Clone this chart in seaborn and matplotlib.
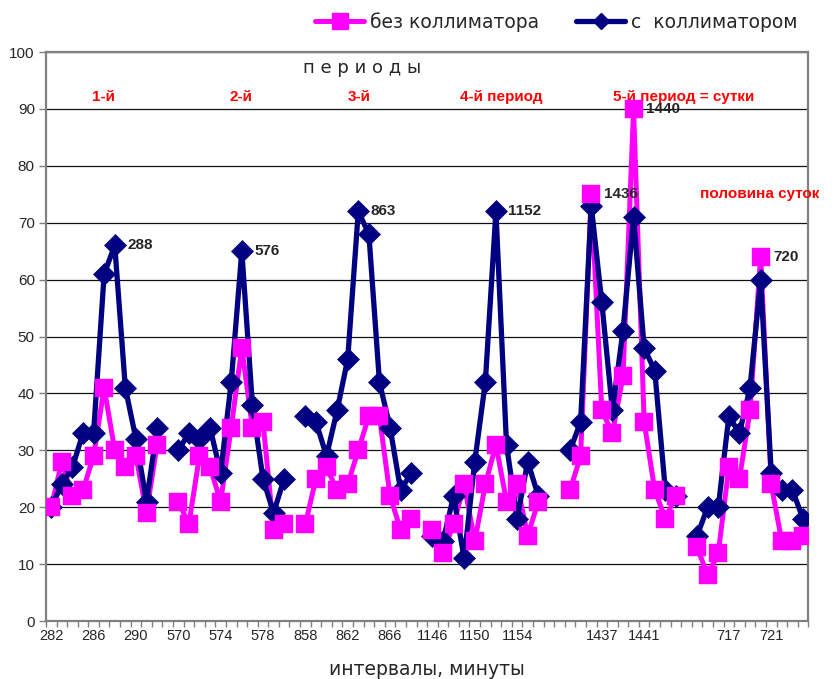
import pandas as pd
import matplotlib.pyplot as plt
from matplotlib.lines import Line2D
import seaborn as sns

# categories on the x axis ("" = empty category, gap in the lines)
minutes = ["282", "283", "284", "285", "286", "287", "288", "289", "290", "291", "292", "",
           "570", "571", "572", "573", "574", "575", "576", "577", "578", "579", "580", "",
           "858", "859", "860", "861", "862", "863", "864", "865", "866", "867", "868", "",
           "1146", "1147", "1148", "1149", "1150", "1151", "1152", "1153", "1154", "1155", "1156", "", "",
           "1434", "1435", "1436", "1437", "1438", "1439", "1440", "1441", "1442", "1443", "1444", "",
           "714", "715", "716", "717", "718", "719", "720", "721", "722", "723", "724"]

# series
no_collimator = [20, 28, 22, 23, 29, 41, 30, 27, 29, 19, 31, None,
                 21, 17, 29, 27, 21, 34, 48, 34, 35, 16, 17, None,
                 17, 25, 27, 23, 24, 30, 36, 36, 22, 16, 18, None,
                 16, 12, 17, 24, 14, 24, 31, 21, 24, 15, 21, None, None,
                 23, 29, 75, 37, 33, 43, 90, 35, 23, 18, 22, None,
                 13, 8, 12, 27, 25, 37, 64, 24, 14, 14, 15]
with_collimator = [20, 24, 27, 33, 33, 61, 66, 41, 32, 21, 34, None,
                   30, 33, 32, 34, 26, 42, 65, 38, 25, 19, 25, None,
                   36, 35, 29, 37, 46, 72, 68, 42, 34, 23, 26, None,
                   15, 14, 22, 11, 28, 42, 72, 31, 18, 28, 22, None, None,
                   30, 35, 73, 56, 37, 51, 71, 48, 44, 23, 22, None,
                   15, 20, 20, 36, 33, 41, 60, 26, 23, 23, 18]

period_labels = ["1-й", "2-й", "3-й", "4-й период", "5-й период = сутки"]
period_pos = [4.9, 17.9, 29.1, 42.5, 59.7]

peak_labels = ["288", "576", "863", "1152", "1436", "1440", "720"]

PINK = "#FF00FF"
NAVY = "#000080"

sns.set_style("white")
plt.rcParams['font.family'] = ['Liberation Sans', 'DejaVu Sans']


def to_frame(values):
    df = pd.DataFrame({"pos": range(len(minutes)), "label": minutes, "val": values})
    # segment id changes at every empty category -> separate lines
    df["seg"] = (df["label"] == "").cumsum()
    return df.dropna(subset=["val"])


df_pink = to_frame(no_collimator)
df_blue = to_frame(with_collimator)

fig = plt.figure(figsize=(8.35, 6.79), dpi=100)
ax = fig.add_axes([0.055, 0.0854, 0.913, 0.838])

sns.lineplot(data=df_pink, x="pos", y="val", units="seg", estimator=None,
             color=PINK, lw=3.6, ax=ax, zorder=2, legend=False)
sns.lineplot(data=df_blue, x="pos", y="val", units="seg", estimator=None,
             color=NAVY, lw=3.8, ax=ax, zorder=3, legend=False)
sns.scatterplot(data=df_blue, x="pos", y="val", marker="D", s=125, color=NAVY,
                edgecolor=NAVY, linewidth=0.5, ax=ax, zorder=4, legend=False)
sns.scatterplot(data=df_pink, x="pos", y="val", marker="s", s=185, color=PINK,
                edgecolor=PINK, linewidth=0.3, ax=ax, zorder=5, legend=False)

# axes
ax.set_xlim(-0.5, len(minutes) - 0.5)
ax.set_ylim(0, 100)
ax.set_yticks(range(0, 101, 10))
ax.yaxis.grid(True, color="#111111", lw=0.9)
ax.set_axisbelow(True)
for s in ax.spines.values():
    s.set_color("#808080")
    s.set_linewidth(1.6)

# tick marks between categories, labels on every 4th category
ax.set_xticks([i - 0.5 for i in range(len(minutes) + 1)])
ax.set_xticklabels([])
lab_pos = [i for i in range(0, len(minutes), 4) if minutes[i] != ""]
ax.set_xticks(lab_pos, minor=True)
ax.set_xticklabels([minutes[i] for i in lab_pos], minor=True, fontsize=10.5)
ax.tick_params(axis="x", which="major", direction="out", length=4, width=1, color="#808080", bottom=True)
ax.tick_params(axis="x", which="minor", length=0, pad=6)
ax.tick_params(axis="y", direction="out", length=5, width=1, color="#808080", left=True, labelsize=11, pad=3)

ax.set_xlabel("интервалы, минуты", fontsize=13.5, family=["DejaVu Sans"], labelpad=12)
ax.set_ylabel("")

# annotations
ax.text(29.4, 97.2, "п е р и о д ы", ha="center", va="center", fontsize=13, family=["DejaVu Sans"])
for lab, x in zip(period_labels, period_pos):
    ax.text(x, 92.1, lab, ha="center", va="center", color="red", fontsize=11, fontweight="bold")
ax.text(66.9, 75.0, "половина суток", ha="center", va="center", color="red",
        fontsize=11, fontweight="bold", clip_on=False)

peak_idx = [minutes.index(p) for p in peak_labels]
for p, i in zip(peak_labels, peak_idx):
    yv = no_collimator[i] if p in ("1436", "1440", "720") else with_collimator[i]
    ax.annotate(p, (i, yv), xytext=(9, 0), textcoords="offset points",
                ha="left", va="center", fontsize=11, fontweight="bold", zorder=6)

handles = [Line2D([], [], color=PINK, lw=3.6, marker="s", markersize=11),
           Line2D([], [], color=NAVY, lw=3.8, marker="D", markersize=8)]
fig.legend(handles, ["без коллиматора", "с  коллиматором"], loc="center right",
           bbox_to_anchor=(0.975, 0.968), ncol=2, frameon=False,
           prop={"family": "DejaVu Sans", "size": 13.5},
           handlelength=2.6, handletextpad=0.3, columnspacing=2.0)

fig.savefig("out.png", dpi=100)
